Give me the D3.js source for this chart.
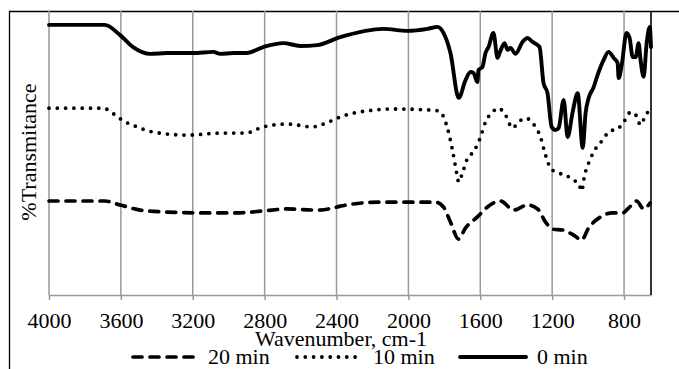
<!DOCTYPE html>
<html>
<head>
<meta charset="utf-8">
<script src="https://cdn.jsdelivr.net/npm/d3@7"></script>
<style>
  html, body { margin: 0; padding: 0; background: #fff; }
  svg { display: block; }
  text { font-family: "Liberation Serif", "DejaVu Serif", serif; fill: #000; }
</style>
</head>
<body>
<script>
// FTIR spectra: [wavenumber cm-1, %T (arbitrary scale 0-100)]
const min0 = [
  [4000, 95.1], [3690, 95.1], [3604, 91.5], [3532, 87.3], [3437, 84.9], [3343, 85.2],
  [3198, 85.2], [3086, 85.6], [3047, 84.9], [2974, 85.2], [2900, 85.2], [2808, 87.3],
  [2696, 88.7], [2602, 87.7], [2508, 88.0], [2379, 90.8], [2139, 93.7], [2006, 93.0],
  [1894, 93.7], [1838, 94.4], [1805, 92.3], [1766, 85.2], [1720, 69.4], [1682, 75.7],
  [1654, 78.5], [1638, 78.2], [1616, 75.0], [1610, 79.2], [1588, 80.3], [1571, 85.2],
  [1554, 87.3], [1527, 92.3], [1504, 83.5], [1490, 85.6], [1465, 88.7], [1448, 86.3],
  [1432, 87.0], [1404, 84.9], [1365, 89.1], [1337, 90.5], [1309, 89.1], [1281, 88.0],
  [1270, 87.3], [1248, 74.6], [1226, 71.1], [1203, 59.2], [1181, 58.1], [1164, 58.8],
  [1136, 68.7], [1114, 55.6], [1086, 64.4], [1058, 71.1], [1030, 51.8], [1014, 64.1],
  [997, 69.4], [969, 73.2], [947, 77.5], [914, 82.7], [886, 85.6], [858, 83.5],
  [836, 81.7], [830, 76.4], [813, 81.0], [786, 92.3], [769, 90.5], [752, 83.8],
  [735, 83.8], [719, 88.7], [708, 82.7], [691, 76.8], [674, 88.7], [657, 94.4], [650, 87.3]
];
const min10 = [
  [4000, 65.8], [3700, 65.8], [3632, 63.4], [3593, 61.6], [3510, 59.2], [3420, 57.4],
  [3231, 56.3], [3047, 57.0], [2908, 57.0], [2808, 59.2], [2674, 60.2], [2535, 59.2],
  [2445, 60.9], [2379, 62.7], [2195, 65.1], [2100, 65.5], [1860, 65.1], [1822, 64.4],
  [1783, 58.8], [1755, 51.1], [1727, 41.5], [1721, 39.8], [1699, 43.0], [1671, 48.2],
  [1638, 50.4], [1599, 55.6], [1571, 60.9], [1532, 64.4], [1499, 65.8], [1460, 63.4],
  [1421, 58.8], [1387, 60.9], [1348, 62.3], [1309, 60.6], [1265, 55.6], [1237, 49.3],
  [1209, 44.7], [1170, 43.0], [1125, 42.3], [1086, 40.5], [1053, 39.4], [1036, 36.6],
  [1019, 42.3], [997, 46.5], [969, 50.4], [919, 54.6], [886, 57.4], [830, 58.8],
  [802, 60.9], [763, 64.4], [735, 63.4], [708, 59.9], [680, 63.4], [655, 65.1]
];
const min20 = [
  [4000, 33.1], [3690, 33.1], [3604, 31.7], [3493, 29.9], [3343, 29.2], [3120, 28.9],
  [2953, 28.9], [2808, 29.6], [2674, 30.3], [2508, 29.9], [2396, 31.0], [2379, 31.3],
  [2156, 32.7], [2006, 32.7], [1850, 32.7], [1805, 31.0], [1766, 25.7], [1721, 19.7],
  [1682, 23.6], [1616, 27.5], [1560, 31.0], [1487, 33.1], [1415, 29.9], [1337, 31.7],
  [1281, 30.3], [1237, 25.7], [1198, 23.2], [1142, 22.9], [1081, 21.1], [1036, 19.4],
  [997, 23.6], [930, 27.5], [864, 28.9], [808, 28.9], [775, 30.6], [730, 33.1],
  [691, 30.3], [655, 32.4]
];
const xTicks = [4000, 3600, 3200, 2800, 2400, 2000, 1600, 1200, 800];
const legendNames = ["20 min", "10 min", "0 min"];

const W = 679, H = 369;
const plot = { left: 49, right: 651, top: 11, bottom: 295 };

const svg = d3.select("body").append("svg")
  .attr("width", W)
  .attr("height", H);

const x = d3.scaleLinear().domain([4000, 650]).range([plot.left, plot.right]);
const y = d3.scaleLinear().domain([0, 100]).range([plot.bottom, plot.top]);

// Chart frame (only top and left edges are visible in the crop)
svg.append("path")
  .attr("d", `M9.5,${H} V11.5 H${W}`)
  .attr("fill", "none")
  .attr("stroke", "#000")
  .attr("stroke-width", 1.3);

// Vertical gridlines
svg.append("g")
  .selectAll("line")
  .data(xTicks)
  .join("line")
  .attr("x1", (d) => x(d))
  .attr("x2", (d) => x(d))
  .attr("y1", plot.top)
  .attr("y2", plot.bottom)
  .attr("stroke", "#999")
  .attr("stroke-width", 1.5);

// Bottom axis
const xAxis = svg.append("g")
  .attr("transform", `translate(0,${plot.bottom})`)
  .call(d3.axisBottom(x).tickValues(xTicks).tickFormat(d3.format("d")).tickSize(5).tickSizeOuter(0));
xAxis.select(".domain").attr("stroke", "#999").attr("stroke-width", 1.5);
xAxis.selectAll(".tick line").attr("stroke", "#999").attr("stroke-width", 1.5);
xAxis.selectAll(".tick text")
  .attr("font-size", 22)
  .attr("font-family", "Liberation Serif")
  .attr("fill", "#000")
  .attr("y", 0)
  .attr("dy", null)
  .attr("transform", "translate(0,33)");

// Vertical axis line sits on the right (reversed x axis)
svg.append("line")
  .attr("x1", plot.right)
  .attr("x2", plot.right)
  .attr("y1", plot.top)
  .attr("y2", plot.bottom)
  .attr("stroke", "#000")
  .attr("stroke-width", 1.6);

const line = d3.line()
  .x((d) => x(d[0]))
  .y((d) => y(d[1]))
  .curve(d3.curveMonotoneX);

const styles = [
  { data: min20, dash: "9 8", width: 3.7 },
  { data: min10, dash: "0 8.3", width: 3.8 },
  { data: min0, dash: null, width: 3.9 }
];

svg.append("g")
  .selectAll("path")
  .data(styles)
  .join("path")
  .attr("d", (d) => line(d.data))
  .attr("fill", "none")
  .attr("stroke", "#000")
  .attr("stroke-width", (d) => d.width)
  .attr("stroke-linecap", "round")
  .attr("stroke-linejoin", "round")
  .attr("stroke-dasharray", (d) => d.dash);

// Axis titles
svg.append("text")
  .attr("x", 341)
  .attr("y", 346)
  .attr("text-anchor", "middle")
  .attr("font-size", 22)
  .text("Wavenumber, cm-1");

svg.append("text")
  .attr("transform", "translate(36,152) rotate(-90)")
  .attr("text-anchor", "middle")
  .attr("font-size", 22)
  .text("%Transmitance");

// Legend
const legendX = [133, 297, 460];
const legend = svg.append("g")
  .selectAll("g")
  .data(styles)
  .join("g")
  .attr("transform", (d, i) => `translate(${legendX[i]},357)`);

legend.append("line")
  .attr("x1", 0)
  .attr("x2", 66)
  .attr("stroke", "#000")
  .attr("stroke-width", (d) => d.width)
  .attr("stroke-linecap", "round")
  .attr("stroke-dasharray", (d) => d.dash);

legend.append("text")
  .attr("x", (d, i) => [75, 76, 77][i])
  .attr("y", 6.5)
  .attr("font-size", 22)
  .text((d, i) => legendNames[i]);
</script>
</body>
</html>
